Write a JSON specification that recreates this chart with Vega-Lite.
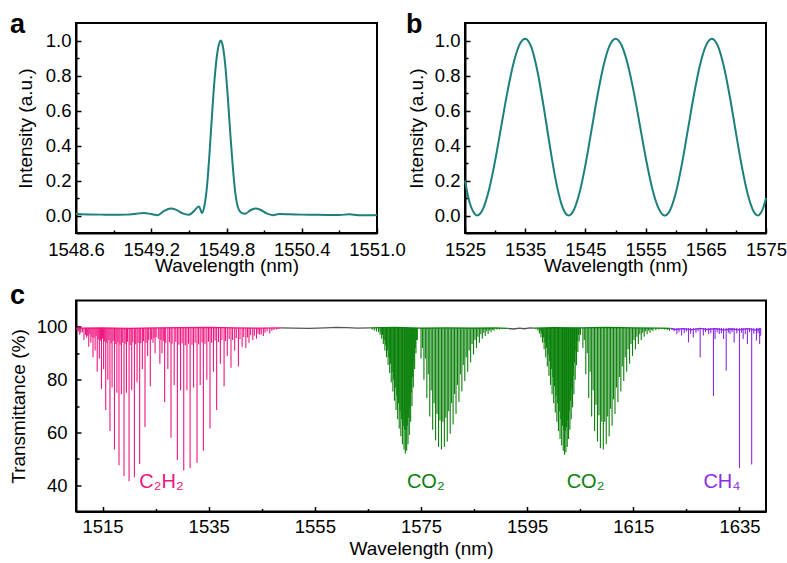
{
"$schema":"https://vega.github.io/schema/vega-lite/v6.json",
"padding":{"left":8,"top":10,"right":0,"bottom":3},
"background":"white",
"config":{
 "font":"Liberation Sans",
 "view":{"stroke":"#000","strokeWidth":2},
 "axis":{"domainColor":"#000","domainWidth":2,"tickColor":"#000","tickWidth":1.5,"labelColor":"#000","titleColor":"#000","labelFontSize":18.5,"titleFontSize":19,"titleFontWeight":"normal","labelFlush":false,"labelOverlap":false,"labelBound":false,"grid":false,"labelFont":"Liberation Sans","titleFont":"Liberation Sans"},
 "title":{"fontSize":27,"fontWeight":"bold","color":"#000","font":"Liberation Sans"}
},
"datasets":{
 "pa":[{"w":1548.6,"v":0.008},{"w":1548.7,"v":0.006},{"w":1548.8,"v":0.005},{"w":1548.9,"v":0.004},{"w":1549.0,"v":0.005},{"w":1549.08,"v":0.01},{"w":1549.14,"v":0.015},{"w":1549.2,"v":0.008},{"w":1549.25,"v":0.002},{"w":1549.3,"v":0.025},{"w":1549.355,"v":0.04},{"w":1549.4,"v":0.032},{"w":1549.45,"v":0.012},{"w":1549.5,"v":0.004},{"w":1549.54,"v":0.025},{"w":1549.58,"v":0.052},{"w":1549.605,"v":0.015},{"w":1549.625,"v":0.06},{"w":1549.645,"v":0.17},{"w":1549.665,"v":0.36},{"w":1549.685,"v":0.58},{"w":1549.705,"v":0.78},{"w":1549.725,"v":0.92},{"w":1549.745,"v":0.99},{"w":1549.755,"v":1.0},{"w":1549.77,"v":0.97},{"w":1549.79,"v":0.86},{"w":1549.81,"v":0.68},{"w":1549.83,"v":0.47},{"w":1549.85,"v":0.28},{"w":1549.87,"v":0.13},{"w":1549.89,"v":0.05},{"w":1549.92,"v":0.015},{"w":1549.95,"v":0.01},{"w":1549.99,"v":0.03},{"w":1550.03,"v":0.04},{"w":1550.07,"v":0.033},{"w":1550.12,"v":0.012},{"w":1550.17,"v":0.002},{"w":1550.22,"v":0.008},{"w":1550.3,"v":0.007},{"w":1550.4,"v":0.005},{"w":1550.5,"v":0.004},{"w":1550.6,"v":0.003},{"w":1550.7,"v":0.003},{"w":1550.78,"v":0.007},{"w":1550.85,"v":0.002},{"w":1550.95,"v":0.002},{"w":1551.0,"v":0.003}],
 "pb":[{"w":1525,"v":0.2},{"w":1525.5,"v":0.11},{"w":1526,"v":0.05},{"w":1526.5,"v":0.015},{"w":1527,"v":0.0},{"w":1527.5,"v":0.01},{"w":1528,"v":0.038},{"w":1529,"v":0.148},{"w":1530,"v":0.312},{"w":1531,"v":0.505},{"w":1532,"v":0.698},{"w":1533,"v":0.862},{"w":1534,"v":0.972},{"w":1535,"v":1.01},{"w":1536,"v":0.963},{"w":1537,"v":0.83},{"w":1538,"v":0.636},{"w":1539,"v":0.417},{"w":1540,"v":0.215},{"w":1541,"v":0.068},{"w":1542,"v":0.002},{"w":1542.2,"v":0.0},{"w":1543,"v":0.026},{"w":1544,"v":0.127},{"w":1545,"v":0.288},{"w":1546,"v":0.485},{"w":1547,"v":0.684},{"w":1548,"v":0.854},{"w":1549,"v":0.969},{"w":1550,"v":1.01},{"w":1551,"v":0.973},{"w":1552,"v":0.869},{"w":1553,"v":0.712},{"w":1554,"v":0.525},{"w":1555,"v":0.334},{"w":1556,"v":0.169},{"w":1557,"v":0.053},{"w":1558,"v":0.001},{"w":1558.2,"v":0.0},{"w":1559,"v":0.026},{"w":1560,"v":0.127},{"w":1561,"v":0.288},{"w":1562,"v":0.485},{"w":1563,"v":0.684},{"w":1564,"v":0.854},{"w":1565,"v":0.969},{"w":1566,"v":1.01},{"w":1567,"v":0.969},{"w":1568,"v":0.851},{"w":1569,"v":0.677},{"w":1570,"v":0.474},{"w":1571,"v":0.277},{"w":1572,"v":0.117},{"w":1573,"v":0.02},{"w":1573.7,"v":0.0},{"w":1574,"v":0.008},{"w":1574.5,"v":0.04},{"w":1575,"v":0.1}],
 "lines":[
{"w":1510.7,"t":97,"g":"C2H2"},{"w":1511.5,"t":95,"g":"C2H2"},{"w":1512.4,"t":92.5,"g":"C2H2"},{"w":1513.2,"t":88.5,"g":"C2H2"},{"w":1514.0,"t":83,"g":"C2H2"},{"w":1514.8,"t":76.5,"g":"C2H2"},{"w":1515.6,"t":68.5,"g":"C2H2"},{"w":1516.4,"t":60.5,"g":"C2H2"},{"w":1517.25,"t":53.5,"g":"C2H2"},{"w":1518.1,"t":47.5,"g":"C2H2"},{"w":1519.05,"t":43.5,"g":"C2H2"},{"w":1520.0,"t":41.5,"g":"C2H2"},{"w":1521.0,"t":43,"g":"C2H2"},{"w":1522.0,"t":48,"g":"C2H2"},{"w":1523.0,"t":62,"g":"C2H2"},{"w":1524.0,"t":77.5,"g":"C2H2"},{"w":1524.9,"t":90,"g":"C2H2"},
{"w":1512.0,"t":96,"g":"C2H2"},{"w":1512.8,"t":94,"g":"C2H2"},{"w":1513.6,"t":91,"g":"C2H2"},{"w":1514.4,"t":88,"g":"C2H2"},{"w":1515.2,"t":84,"g":"C2H2"},{"w":1516.0,"t":80,"g":"C2H2"},{"w":1516.8,"t":77,"g":"C2H2"},{"w":1517.7,"t":75,"g":"C2H2"},{"w":1518.55,"t":74.5,"g":"C2H2"},{"w":1519.5,"t":75,"g":"C2H2"},{"w":1520.5,"t":76,"g":"C2H2"},{"w":1521.5,"t":79,"g":"C2H2"},{"w":1522.5,"t":84,"g":"C2H2"},{"w":1523.5,"t":89,"g":"C2H2"},{"w":1524.5,"t":94,"g":"C2H2"},
{"w":1525.8,"t":86,"g":"C2H2"},{"w":1526.7,"t":71.5,"g":"C2H2"},{"w":1527.9,"t":58,"g":"C2H2"},{"w":1529.1,"t":49.5,"g":"C2H2"},{"w":1530.3,"t":45.5,"g":"C2H2"},{"w":1531.5,"t":46.5,"g":"C2H2"},{"w":1532.8,"t":48.5,"g":"C2H2"},{"w":1534.0,"t":53,"g":"C2H2"},{"w":1535.25,"t":61.5,"g":"C2H2"},{"w":1536.5,"t":68.5,"g":"C2H2"},{"w":1537.9,"t":77.5,"g":"C2H2"},{"w":1539.2,"t":84.5,"g":"C2H2"},{"w":1540.6,"t":85,"g":"C2H2"},{"w":1542.0,"t":92,"g":"C2H2"},{"w":1543.3,"t":95,"g":"C2H2"},{"w":1544.6,"t":97,"g":"C2H2"},
{"w":1526.2,"t":90,"g":"C2H2"},{"w":1527.3,"t":84,"g":"C2H2"},{"w":1528.5,"t":78,"g":"C2H2"},{"w":1529.7,"t":76,"g":"C2H2"},{"w":1530.9,"t":76,"g":"C2H2"},{"w":1532.15,"t":77,"g":"C2H2"},{"w":1533.4,"t":78,"g":"C2H2"},{"w":1534.65,"t":80,"g":"C2H2"},{"w":1535.9,"t":83,"g":"C2H2"},{"w":1537.2,"t":86,"g":"C2H2"},{"w":1538.5,"t":89,"g":"C2H2"},{"w":1539.9,"t":91,"g":"C2H2"},{"w":1541.3,"t":92.5,"g":"C2H2"},{"w":1542.6,"t":94,"g":"C2H2"},{"w":1544.0,"t":95.5,"g":"C2H2"},{"w":1545.3,"t":96.5,"g":"C2H2"},{"w":1546.5,"t":97.5,"g":"C2H2"},
{"w":1510.2,"t":98.8,"g":"C2H2"},{"w":1510.5,"t":98.2,"g":"C2H2"},{"w":1510.9,"t":97.8,"g":"C2H2"},{"w":1511.2,"t":98.0,"g":"C2H2"},{"w":1511.8,"t":97.0,"g":"C2H2"},{"w":1512.2,"t":96.6,"g":"C2H2"},{"w":1512.6,"t":97.2,"g":"C2H2"},{"w":1513.0,"t":96.2,"g":"C2H2"},{"w":1513.4,"t":95.8,"g":"C2H2"},{"w":1513.8,"t":96.5,"g":"C2H2"},{"w":1514.2,"t":95.2,"g":"C2H2"},{"w":1514.6,"t":94.8,"g":"C2H2"},{"w":1515.0,"t":95.6,"g":"C2H2"},{"w":1515.4,"t":94.5,"g":"C2H2"},{"w":1515.8,"t":94.0,"g":"C2H2"},{"w":1516.2,"t":95.0,"g":"C2H2"},{"w":1516.6,"t":93.8,"g":"C2H2"},{"w":1517.0,"t":94.6,"g":"C2H2"},{"w":1517.5,"t":93.5,"g":"C2H2"},{"w":1517.9,"t":94.2,"g":"C2H2"},{"w":1518.3,"t":93.2,"g":"C2H2"},{"w":1518.8,"t":94.0,"g":"C2H2"},{"w":1519.25,"t":93.6,"g":"C2H2"},{"w":1519.7,"t":94.4,"g":"C2H2"},{"w":1520.2,"t":93.0,"g":"C2H2"},{"w":1520.7,"t":94.2,"g":"C2H2"},{"w":1521.25,"t":93.4,"g":"C2H2"},{"w":1521.7,"t":94.0,"g":"C2H2"},{"w":1522.2,"t":93.8,"g":"C2H2"},{"w":1522.7,"t":94.6,"g":"C2H2"},{"w":1523.2,"t":94.0,"g":"C2H2"},{"w":1523.7,"t":95.0,"g":"C2H2"},{"w":1524.2,"t":95.2,"g":"C2H2"},{"w":1524.7,"t":95.8,"g":"C2H2"},{"w":1525.1,"t":96.2,"g":"C2H2"},{"w":1525.5,"t":95.5,"g":"C2H2"},{"w":1526.0,"t":95.0,"g":"C2H2"},{"w":1526.45,"t":94.6,"g":"C2H2"},{"w":1526.9,"t":94.0,"g":"C2H2"},{"w":1527.6,"t":94.2,"g":"C2H2"},{"w":1528.1,"t":93.6,"g":"C2H2"},{"w":1528.8,"t":94.4,"g":"C2H2"},{"w":1529.4,"t":93.2,"g":"C2H2"},{"w":1530.0,"t":93.8,"g":"C2H2"},{"w":1530.6,"t":93.0,"g":"C2H2"},{"w":1531.2,"t":93.6,"g":"C2H2"},{"w":1531.85,"t":93.2,"g":"C2H2"},{"w":1532.45,"t":94.0,"g":"C2H2"},{"w":1533.1,"t":93.4,"g":"C2H2"},{"w":1533.75,"t":94.2,"g":"C2H2"},{"w":1534.3,"t":93.6,"g":"C2H2"},{"w":1534.95,"t":94.4,"g":"C2H2"},{"w":1535.55,"t":94.0,"g":"C2H2"},{"w":1536.2,"t":94.8,"g":"C2H2"},{"w":1536.85,"t":94.2,"g":"C2H2"},{"w":1537.5,"t":95.0,"g":"C2H2"},{"w":1538.15,"t":94.6,"g":"C2H2"},{"w":1538.85,"t":95.4,"g":"C2H2"},{"w":1539.5,"t":95.0,"g":"C2H2"},{"w":1540.2,"t":95.8,"g":"C2H2"},{"w":1540.9,"t":95.4,"g":"C2H2"},{"w":1541.6,"t":96.2,"g":"C2H2"},{"w":1542.3,"t":96.0,"g":"C2H2"},{"w":1542.9,"t":96.8,"g":"C2H2"},{"w":1543.6,"t":96.6,"g":"C2H2"},{"w":1544.3,"t":97.4,"g":"C2H2"},{"w":1544.9,"t":97.2,"g":"C2H2"},{"w":1545.6,"t":97.8,"g":"C2H2"},{"w":1546.0,"t":98.2,"g":"C2H2"},{"w":1546.9,"t":98.4,"g":"C2H2"},{"w":1547.3,"t":98.8,"g":"C2H2"},{"w":1547.8,"t":99.0,"g":"C2H2"},{"w":1548.2,"t":99.2,"g":"C2H2"},
{"w":1565.8,"t":99.0,"g":"CO2"},{"w":1566.2,"t":98.6,"g":"CO2"},{"w":1566.6,"t":98.2,"g":"CO2"},{"w":1567.0,"t":98.0,"g":"CO2"},
{"w":1567.3,"t":97,"g":"CO2"},{"w":1567.6,"t":95.5,"g":"CO2"},{"w":1567.9,"t":93.5,"g":"CO2"},{"w":1568.2,"t":91,"g":"CO2"},{"w":1568.5,"t":88.5,"g":"CO2"},{"w":1568.8,"t":85.5,"g":"CO2"},{"w":1569.1,"t":82.5,"g":"CO2"},{"w":1569.4,"t":79,"g":"CO2"},{"w":1569.7,"t":75.5,"g":"CO2"},{"w":1570.0,"t":72,"g":"CO2"},{"w":1570.3,"t":68.5,"g":"CO2"},{"w":1570.6,"t":65,"g":"CO2"},{"w":1570.9,"t":61.5,"g":"CO2"},{"w":1571.2,"t":58.5,"g":"CO2"},{"w":1571.5,"t":55.5,"g":"CO2"},{"w":1571.8,"t":53.5,"g":"CO2"},{"w":1572.05,"t":52,"g":"CO2"},{"w":1572.3,"t":53,"g":"CO2"},{"w":1572.55,"t":55.5,"g":"CO2"},{"w":1572.8,"t":59,"g":"CO2"},{"w":1573.05,"t":64,"g":"CO2"},{"w":1573.3,"t":70,"g":"CO2"},{"w":1573.55,"t":77,"g":"CO2"},{"w":1573.8,"t":84,"g":"CO2"},{"w":1574.05,"t":90,"g":"CO2"},{"w":1574.3,"t":95,"g":"CO2"},
{"w":1567.45,"t":98,"g":"CO2"},{"w":1567.75,"t":97,"g":"CO2"},{"w":1568.05,"t":95,"g":"CO2"},{"w":1568.35,"t":93,"g":"CO2"},{"w":1568.65,"t":91,"g":"CO2"},{"w":1568.95,"t":88.5,"g":"CO2"},{"w":1569.25,"t":86,"g":"CO2"},{"w":1569.55,"t":83,"g":"CO2"},{"w":1569.85,"t":80,"g":"CO2"},{"w":1570.15,"t":77,"g":"CO2"},{"w":1570.45,"t":74,"g":"CO2"},{"w":1570.75,"t":71,"g":"CO2"},{"w":1571.05,"t":68,"g":"CO2"},{"w":1571.35,"t":65,"g":"CO2"},{"w":1571.65,"t":62.5,"g":"CO2"},{"w":1571.92,"t":61,"g":"CO2"},{"w":1572.18,"t":61,"g":"CO2"},{"w":1572.42,"t":62.5,"g":"CO2"},{"w":1572.68,"t":65.5,"g":"CO2"},{"w":1572.92,"t":69.5,"g":"CO2"},{"w":1573.18,"t":75,"g":"CO2"},{"w":1573.42,"t":81,"g":"CO2"},{"w":1573.68,"t":87,"g":"CO2"},{"w":1573.92,"t":92,"g":"CO2"},{"w":1574.18,"t":95,"g":"CO2"},
{"w":1575.0,"t":88,"g":"CO2"},{"w":1575.55,"t":80,"g":"CO2"},{"w":1576.1,"t":73,"g":"CO2"},{"w":1576.65,"t":66,"g":"CO2"},{"w":1577.2,"t":61,"g":"CO2"},{"w":1577.75,"t":57,"g":"CO2"},{"w":1578.3,"t":54.5,"g":"CO2"},{"w":1578.85,"t":53.5,"g":"CO2"},{"w":1579.4,"t":54.5,"g":"CO2"},{"w":1579.95,"t":56.5,"g":"CO2"},{"w":1580.5,"t":59.5,"g":"CO2"},{"w":1581.05,"t":63,"g":"CO2"},{"w":1581.6,"t":67,"g":"CO2"},{"w":1582.15,"t":71.5,"g":"CO2"},{"w":1582.7,"t":75.5,"g":"CO2"},{"w":1583.25,"t":79.5,"g":"CO2"},{"w":1583.8,"t":83,"g":"CO2"},{"w":1584.35,"t":86.5,"g":"CO2"},{"w":1584.9,"t":89.5,"g":"CO2"},{"w":1585.45,"t":92,"g":"CO2"},{"w":1586.0,"t":94,"g":"CO2"},{"w":1586.55,"t":95.5,"g":"CO2"},{"w":1587.1,"t":96.5,"g":"CO2"},{"w":1587.65,"t":97.3,"g":"CO2"},{"w":1588.2,"t":98,"g":"CO2"},{"w":1588.75,"t":98.5,"g":"CO2"},{"w":1589.3,"t":99,"g":"CO2"},
{"w":1575.27,"t":92,"g":"CO2"},{"w":1575.82,"t":88,"g":"CO2"},{"w":1576.37,"t":82,"g":"CO2"},{"w":1576.92,"t":76,"g":"CO2"},{"w":1577.47,"t":71,"g":"CO2"},{"w":1578.02,"t":67,"g":"CO2"},{"w":1578.57,"t":64.5,"g":"CO2"},{"w":1579.12,"t":64,"g":"CO2"},{"w":1579.67,"t":65.5,"g":"CO2"},{"w":1580.22,"t":68,"g":"CO2"},{"w":1580.77,"t":71,"g":"CO2"},{"w":1581.32,"t":74.5,"g":"CO2"},{"w":1581.87,"t":78,"g":"CO2"},{"w":1582.42,"t":82,"g":"CO2"},{"w":1582.97,"t":85.5,"g":"CO2"},{"w":1583.52,"t":88.5,"g":"CO2"},{"w":1584.07,"t":91,"g":"CO2"},{"w":1584.62,"t":93.5,"g":"CO2"},{"w":1585.17,"t":95,"g":"CO2"},{"w":1585.72,"t":96.3,"g":"CO2"},{"w":1586.27,"t":97.2,"g":"CO2"},{"w":1586.82,"t":97.8,"g":"CO2"},{"w":1587.37,"t":98.3,"g":"CO2"},{"w":1587.92,"t":98.6,"g":"CO2"},{"w":1588.47,"t":98.9,"g":"CO2"},
{"w":1589.8,"t":99.0,"g":"CO2"},{"w":1590.3,"t":99.2,"g":"CO2"},{"w":1590.8,"t":99.3,"g":"CO2"},{"w":1596.6,"t":99.2,"g":"CO2"},{"w":1597.0,"t":98.6,"g":"CO2"},
{"w":1597.3,"t":97.5,"g":"CO2"},{"w":1597.6,"t":96,"g":"CO2"},{"w":1597.9,"t":94,"g":"CO2"},{"w":1598.2,"t":91.5,"g":"CO2"},{"w":1598.5,"t":88.5,"g":"CO2"},{"w":1598.8,"t":85,"g":"CO2"},{"w":1599.1,"t":81.5,"g":"CO2"},{"w":1599.4,"t":78,"g":"CO2"},{"w":1599.7,"t":74.5,"g":"CO2"},{"w":1600.0,"t":71,"g":"CO2"},{"w":1600.3,"t":67.5,"g":"CO2"},{"w":1600.6,"t":64,"g":"CO2"},{"w":1600.9,"t":60.5,"g":"CO2"},{"w":1601.2,"t":57.5,"g":"CO2"},{"w":1601.5,"t":55,"g":"CO2"},{"w":1601.8,"t":53,"g":"CO2"},{"w":1602.05,"t":51.5,"g":"CO2"},{"w":1602.3,"t":52.5,"g":"CO2"},{"w":1602.55,"t":54.5,"g":"CO2"},{"w":1602.8,"t":57.5,"g":"CO2"},{"w":1603.05,"t":61,"g":"CO2"},{"w":1603.3,"t":65,"g":"CO2"},{"w":1603.55,"t":69.5,"g":"CO2"},{"w":1603.8,"t":74.5,"g":"CO2"},{"w":1604.05,"t":80,"g":"CO2"},{"w":1604.3,"t":85.5,"g":"CO2"},{"w":1604.55,"t":90.5,"g":"CO2"},{"w":1604.8,"t":94.5,"g":"CO2"},{"w":1605.05,"t":97,"g":"CO2"},
{"w":1597.45,"t":98.5,"g":"CO2"},{"w":1597.75,"t":97.5,"g":"CO2"},{"w":1598.05,"t":96,"g":"CO2"},{"w":1598.35,"t":94,"g":"CO2"},{"w":1598.65,"t":92,"g":"CO2"},{"w":1598.95,"t":89.5,"g":"CO2"},{"w":1599.25,"t":87,"g":"CO2"},{"w":1599.55,"t":84,"g":"CO2"},{"w":1599.85,"t":81,"g":"CO2"},{"w":1600.15,"t":77.5,"g":"CO2"},{"w":1600.45,"t":74,"g":"CO2"},{"w":1600.75,"t":71,"g":"CO2"},{"w":1601.05,"t":68,"g":"CO2"},{"w":1601.35,"t":65,"g":"CO2"},{"w":1601.65,"t":62.5,"g":"CO2"},{"w":1601.92,"t":61,"g":"CO2"},{"w":1602.18,"t":60.5,"g":"CO2"},{"w":1602.42,"t":62,"g":"CO2"},{"w":1602.68,"t":64.5,"g":"CO2"},{"w":1602.92,"t":68,"g":"CO2"},{"w":1603.18,"t":72,"g":"CO2"},{"w":1603.42,"t":76.5,"g":"CO2"},{"w":1603.68,"t":81.5,"g":"CO2"},{"w":1603.92,"t":86.5,"g":"CO2"},{"w":1604.18,"t":91,"g":"CO2"},{"w":1604.42,"t":94.5,"g":"CO2"},{"w":1604.68,"t":97,"g":"CO2"},
{"w":1605.5,"t":92,"g":"CO2"},{"w":1606.05,"t":82,"g":"CO2"},{"w":1606.6,"t":73,"g":"CO2"},{"w":1607.15,"t":66,"g":"CO2"},{"w":1607.7,"t":60.5,"g":"CO2"},{"w":1608.25,"t":56.5,"g":"CO2"},{"w":1608.8,"t":54,"g":"CO2"},{"w":1609.35,"t":53.5,"g":"CO2"},{"w":1609.9,"t":55.5,"g":"CO2"},{"w":1610.45,"t":58.5,"g":"CO2"},{"w":1611.0,"t":62.5,"g":"CO2"},{"w":1611.55,"t":67,"g":"CO2"},{"w":1612.1,"t":71.5,"g":"CO2"},{"w":1612.65,"t":75.5,"g":"CO2"},{"w":1613.2,"t":79.5,"g":"CO2"},{"w":1613.75,"t":83,"g":"CO2"},{"w":1614.3,"t":86,"g":"CO2"},{"w":1614.85,"t":89,"g":"CO2"},{"w":1615.4,"t":91.5,"g":"CO2"},{"w":1615.95,"t":93.5,"g":"CO2"},{"w":1616.5,"t":95,"g":"CO2"},{"w":1617.05,"t":96.3,"g":"CO2"},{"w":1617.6,"t":97.2,"g":"CO2"},{"w":1618.15,"t":97.8,"g":"CO2"},{"w":1618.7,"t":98.3,"g":"CO2"},{"w":1619.25,"t":98.7,"g":"CO2"},{"w":1619.8,"t":99,"g":"CO2"},{"w":1620.35,"t":99.2,"g":"CO2"},
{"w":1605.77,"t":95,"g":"CO2"},{"w":1606.32,"t":90,"g":"CO2"},{"w":1606.87,"t":83,"g":"CO2"},{"w":1607.42,"t":76,"g":"CO2"},{"w":1607.97,"t":70.5,"g":"CO2"},{"w":1608.52,"t":66.5,"g":"CO2"},{"w":1609.07,"t":64,"g":"CO2"},{"w":1609.62,"t":64,"g":"CO2"},{"w":1610.17,"t":66,"g":"CO2"},{"w":1610.72,"t":69,"g":"CO2"},{"w":1611.27,"t":72.5,"g":"CO2"},{"w":1611.82,"t":77,"g":"CO2"},{"w":1612.37,"t":81,"g":"CO2"},{"w":1612.92,"t":85,"g":"CO2"},{"w":1613.47,"t":88.5,"g":"CO2"},{"w":1614.02,"t":91.5,"g":"CO2"},{"w":1614.57,"t":93.5,"g":"CO2"},{"w":1615.12,"t":95,"g":"CO2"},{"w":1615.67,"t":96.3,"g":"CO2"},{"w":1616.22,"t":97.2,"g":"CO2"},{"w":1616.77,"t":97.8,"g":"CO2"},{"w":1617.32,"t":98.3,"g":"CO2"},{"w":1617.87,"t":98.6,"g":"CO2"},{"w":1618.42,"t":98.9,"g":"CO2"},
{"w":1620.9,"t":99.0,"g":"CO2"},{"w":1621.4,"t":98.8,"g":"CO2"},{"w":1621.8,"t":98.5,"g":"CO2"},
{"w":1627.6,"t":88.4,"g":"CH4"},{"w":1630.1,"t":73.8,"g":"CH4"},{"w":1632.5,"t":83.4,"g":"CH4"},{"w":1635.0,"t":46.5,"g":"CH4"},{"w":1637.3,"t":47.8,"g":"CH4"},
{"w":1623.2,"t":97.3,"g":"CH4"},{"w":1624.1,"t":96.7,"g":"CH4"},{"w":1625.4,"t":94.1,"g":"CH4"},{"w":1626.3,"t":96,"g":"CH4"},{"w":1628.2,"t":96.7,"g":"CH4"},{"w":1629.2,"t":97.3,"g":"CH4"},{"w":1630.4,"t":95.4,"g":"CH4"},{"w":1631.2,"t":97.3,"g":"CH4"},{"w":1632.0,"t":95.4,"g":"CH4"},{"w":1633.2,"t":97.3,"g":"CH4"},{"w":1634.0,"t":94.1,"g":"CH4"},{"w":1635.7,"t":95.4,"g":"CH4"},{"w":1636.5,"t":93.5,"g":"CH4"},{"w":1638.2,"t":94.8,"g":"CH4"},{"w":1638.8,"t":93.5,"g":"CH4"},
{"w":1622.3,"t":98.8,"g":"CH4"},{"w":1622.7,"t":98.3,"g":"CH4"},{"w":1623.6,"t":98,"g":"CH4"},{"w":1624.6,"t":97.6,"g":"CH4"},{"w":1625.0,"t":98.2,"g":"CH4"},{"w":1625.8,"t":97.4,"g":"CH4"},{"w":1626.8,"t":97.8,"g":"CH4"},{"w":1627.2,"t":98.3,"g":"CH4"},{"w":1628.6,"t":98,"g":"CH4"},{"w":1629.6,"t":97.6,"g":"CH4"},{"w":1630.8,"t":98,"g":"CH4"},{"w":1631.6,"t":97.6,"g":"CH4"},{"w":1632.9,"t":97.8,"g":"CH4"},{"w":1633.6,"t":98,"g":"CH4"},{"w":1634.5,"t":97.5,"g":"CH4"},{"w":1635.4,"t":97.8,"g":"CH4"},{"w":1636.1,"t":97.2,"g":"CH4"},{"w":1636.9,"t":98,"g":"CH4"},{"w":1637.7,"t":97.4,"g":"CH4"},{"w":1638.5,"t":97.6,"g":"CH4"},{"w":1639.0,"t":96.6,"g":"CH4"}
 ],
 "base":[
{"w":1510.0,"t":99.5,"g":"C2H2","s":"s1"},{"w":1515,"t":99.6,"g":"C2H2","s":"s1"},{"w":1520,"t":99.4,"g":"C2H2","s":"s1"},{"w":1525,"t":99.6,"g":"C2H2","s":"s1"},{"w":1530,"t":99.7,"g":"C2H2","s":"s1"},{"w":1535,"t":99.8,"g":"C2H2","s":"s1"},{"w":1540,"t":99.6,"g":"C2H2","s":"s1"},{"w":1545,"t":99.5,"g":"C2H2","s":"s1"},{"w":1548.6,"t":99.6,"g":"C2H2","s":"s1"},
{"w":1548.6,"t":99.6,"g":"none","s":"s2"},{"w":1551,"t":99.5,"g":"none","s":"s2"},{"w":1554,"t":99.4,"g":"none","s":"s2"},{"w":1557,"t":99.6,"g":"none","s":"s2"},{"w":1559,"t":99.8,"g":"none","s":"s2"},{"w":1561,"t":99.7,"g":"none","s":"s2"},{"w":1563,"t":99.5,"g":"none","s":"s2"},{"w":1565.5,"t":99.6,"g":"none","s":"s2"},
{"w":1565.5,"t":99.6,"g":"CO2","s":"s3"},{"w":1570,"t":99.8,"g":"CO2","s":"s3"},{"w":1575,"t":99.5,"g":"CO2","s":"s3"},{"w":1580,"t":99.6,"g":"CO2","s":"s3"},{"w":1585,"t":99.5,"g":"CO2","s":"s3"},{"w":1589,"t":99.6,"g":"CO2","s":"s3"},{"w":1591.3,"t":99.4,"g":"CO2","s":"s3"},
{"w":1591.3,"t":99.4,"g":"none","s":"s4"},{"w":1592.5,"t":99.2,"g":"none","s":"s4"},{"w":1593.5,"t":99.5,"g":"none","s":"s4"},{"w":1594.5,"t":99.3,"g":"none","s":"s4"},{"w":1595.5,"t":99.6,"g":"none","s":"s4"},{"w":1596.4,"t":99.5,"g":"none","s":"s4"},
{"w":1596.4,"t":99.5,"g":"CO2","s":"s5"},{"w":1600,"t":99.7,"g":"CO2","s":"s5"},{"w":1605,"t":99.6,"g":"CO2","s":"s5"},{"w":1610,"t":99.8,"g":"CO2","s":"s5"},{"w":1615,"t":99.6,"g":"CO2","s":"s5"},{"w":1620,"t":99.5,"g":"CO2","s":"s5"},{"w":1622,"t":99.4,"g":"CO2","s":"s5"},
{"w":1622,"t":99.4,"g":"CH4","s":"s6"},{"w":1623,"t":99.0,"g":"CH4","s":"s6"},{"w":1624.5,"t":99.3,"g":"CH4","s":"s6"},{"w":1626,"t":98.9,"g":"CH4","s":"s6"},{"w":1627.5,"t":99.4,"g":"CH4","s":"s6"},{"w":1629,"t":99.0,"g":"CH4","s":"s6"},{"w":1630.5,"t":99.3,"g":"CH4","s":"s6"},{"w":1632,"t":98.8,"g":"CH4","s":"s6"},{"w":1633.5,"t":99.2,"g":"CH4","s":"s6"},{"w":1635,"t":98.9,"g":"CH4","s":"s6"},{"w":1636.5,"t":99.3,"g":"CH4","s":"s6"},{"w":1638,"t":98.8,"g":"CH4","s":"s6"},{"w":1639,"t":99.0,"g":"CH4","s":"s6"}
 ],
 "labels":[
{"w":1526.1,"t":41.3,"g":"C2H2","label":"C₂H₂"},{"w":1575.9,"t":41.3,"g":"CO2","label":"CO₂"},{"w":1606.0,"t":41.3,"g":"CO2","label":"CO₂"},{"w":1631.7,"t":41.3,"g":"CH4","label":"CH₄"}
 ]
},
"vconcat":[
 {"hconcat":[
  {"width":301,"height":210,
   "title":{"text":"a","anchor":"start","frame":"group","dx":-66,"dy":37,"offset":0,"baseline":"alphabetic"},
   "data":{"name":"pa"},
   "layer":[
    {"mark":{"type":"line","color":"#1b7f7b","strokeWidth":2,"interpolate":"monotone"},
     "encoding":{
      "x":{"field":"w","type":"quantitative","scale":{"domain":[1548.6,1551.0],"nice":false,"zero":false},
           "axis":{"title":"Wavelength (nm)","values":[1548.6,1549.2,1549.8,1550.4,1551.0],"format":".1f","tickSize":-5,"labelPadding":12,"titlePadding":-2}},
      "y":{"field":"v","type":"quantitative","scale":{"domain":[-0.1,1.1],"nice":false,"zero":false},
           "axis":{"title":"Intensity (a.u.)","values":[0,0.2,0.4,0.6,0.8,1.0],"format":".1f","tickSize":-5,"labelPadding":10,"titlePadding":10}}}},
    {"mark":{"type":"line","opacity":0},
     "encoding":{
      "x":{"field":"w","type":"quantitative","axis":{"orient":"bottom","values":[1548.9,1549.5,1550.1,1550.7],"labels":false,"domain":false,"tickSize":-3,"title":null}},
      "y":{"field":"v","type":"quantitative","axis":{"orient":"left","values":[0.1,0.3,0.5,0.7,0.9],"labels":false,"domain":false,"tickSize":-3,"title":null}}}}
   ],
   "resolve":{"axis":{"x":"independent","y":"independent"}}
  },
  {"width":301,"height":210,
   "title":{"text":"b","anchor":"start","frame":"group","dx":-59,"dy":37,"offset":0,"baseline":"alphabetic"},
   "data":{"name":"pb"},
   "layer":[
    {"mark":{"type":"line","color":"#1b7f7b","strokeWidth":2,"interpolate":"monotone"},
     "encoding":{
      "x":{"field":"w","type":"quantitative","scale":{"domain":[1525,1575],"nice":false,"zero":false},
           "axis":{"title":"Wavelength (nm)","values":[1525,1535,1545,1555,1565,1575],"format":"d","tickSize":-5,"labelPadding":12,"titlePadding":-2}},
      "y":{"field":"v","type":"quantitative","scale":{"domain":[-0.1,1.1],"nice":false,"zero":false},
           "axis":{"title":"Intensity (a.u.)","values":[0,0.2,0.4,0.6,0.8,1.0],"format":".1f","tickSize":-5,"labelPadding":10,"titlePadding":8}}}},
    {"mark":{"type":"line","opacity":0},
     "encoding":{
      "x":{"field":"w","type":"quantitative","axis":{"orient":"bottom","values":[1530,1540,1550,1560,1570],"labels":false,"domain":false,"tickSize":-3,"title":null}},
      "y":{"field":"v","type":"quantitative","axis":{"orient":"left","values":[0.1,0.3,0.5,0.7,0.9],"labels":false,"domain":false,"tickSize":-3,"title":null}}}}
   ],
   "resolve":{"axis":{"x":"independent","y":"independent"}}
  }
 ],"spacing":88,"bounds":"flush"},
 {"width":690,"height":211,
  "title":{"text":"c","anchor":"start","frame":"group","dx":-66,"dy":30,"offset":0,"baseline":"alphabetic"},
  "layer":[
   {"data":{"name":"lines"},
    "mark":{"type":"rule","strokeWidth":1.1},
    "encoding":{
     "x":{"field":"w","type":"quantitative","scale":{"domain":[1510,1640],"nice":false,"zero":false},
          "axis":{"title":"Wavelength (nm)","values":[1515,1535,1555,1575,1595,1615,1635],"format":"d","tickSize":-5,"labelPadding":11,"titlePadding":3}},
     "y":{"field":"t","type":"quantitative","scale":{"domain":[30,110],"nice":false,"zero":false},
          "axis":{"title":"Transmittance (%)","values":[40,60,80,100],"format":"d","tickSize":-5,"labelPadding":14,"titlePadding":8}},
     "y2":{"datum":99.6},
     "color":{"field":"g","type":"nominal","scale":{"domain":["C2H2","CO2","CH4","none"],"range":["#f0157f","#0a800a","#8c2be6","#555555"]},"legend":null}}},
   {"data":{"name":"base"},
    "mark":{"type":"line","strokeWidth":1.3},
    "encoding":{
     "x":{"field":"w","type":"quantitative","axis":null},
     "y":{"field":"t","type":"quantitative","axis":null},
     "detail":{"field":"s"},
     "color":{"field":"g","type":"nominal","legend":null}}},
   {"data":{"name":"labels"},
    "mark":{"type":"text","fontSize":20,"align":"center","baseline":"middle","font":"Liberation Sans"},
    "encoding":{
     "x":{"field":"w","type":"quantitative","axis":null},
     "y":{"field":"t","type":"quantitative","axis":null},
     "text":{"field":"label"},
     "color":{"field":"g","type":"nominal","legend":null}}},
   {"data":{"name":"labels"},
    "mark":{"type":"point","opacity":0},
    "encoding":{
     "x":{"field":"w","type":"quantitative","axis":{"orient":"bottom","values":[1525,1545,1565,1585,1605,1625],"labels":false,"domain":false,"tickSize":-3,"title":null}},
     "y":{"field":"t","type":"quantitative","axis":{"orient":"left","values":[50,70,90],"labels":false,"domain":false,"tickSize":-3,"title":null}}}}
  ],
  "resolve":{"axis":{"x":"independent","y":"independent"}}
 }
],
"spacing":3.5,
"bounds":"full"
}
